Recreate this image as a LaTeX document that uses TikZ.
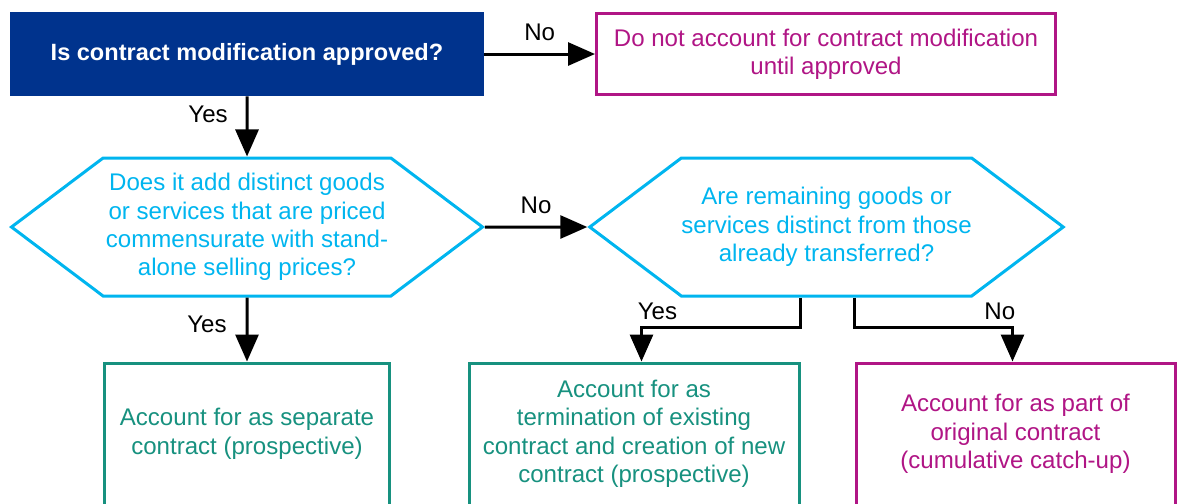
\documentclass[tikz,border=0pt]{standalone}
\usepackage{fontspec}
\setmainfont{Liberation Sans}
\usetikzlibrary{positioning, shapes.symbols, arrows.meta}
\definecolor{kblue}{HTML}{00338D}
\definecolor{kcyan}{HTML}{00B5EF}
\definecolor{kmag}{HTML}{B01585}
\definecolor{kgreen}{HTML}{17917F}
\tikzset{flow/.style={-{Triangle[length=0.54cm,width=0.46cm]}, line width=0.06cm},
  ask/.style={fill=kblue, text=white, font=\fontsize{13.4}{16}\selectfont\bfseries,
    minimum width=9.48cm, minimum height=1.68cm},
  hexq/.style={signal, signal to=west and east, signal pointer angle=74, draw=kcyan, text=kcyan,
    line width=0.06cm, inner xsep=0pt, minimum width=9.42cm, minimum height=2.76cm, align=center},
  outbox/.style={draw, line width=0.06cm, minimum height=2.84cm, align=center}}

\begin{document}
\begin{tikzpicture}[node distance=4cm, on grid, font=\fontsize{13.7}{16.2}\selectfont]
  \useasboundingbox (-4.94,-8.98) rectangle (18.68,1.08);
  \clip (-4.94,-8.98) rectangle (18.68,1.08);

  \node[ask] (appr) at (0,0) {Is contract modification approved?};

  \node[outbox, draw=kmag, text=kmag, minimum width=9.18cm, minimum height=1.62cm]
    (noappr) [right=11.58cm of appr] {%
    Do not account for contract modification\\ until approved};

  \node[hexq] (addq) [below=3.46cm of appr] {%
    Does it add distinct goods\\
    or services that are priced\\
    commensurate with stand-\\
    alone selling prices?};

  \node[hexq] (remq) [right=11.59cm of addq] {%
    Are remaining goods or\\
    services distinct from those\\
    already transferred?};

  \node[outbox, draw=kgreen, text=kgreen, minimum width=5.7cm]
    (sep) [below=4.14cm of addq] {%
    Account for as separate\\ contract (prospective)};

  \node[outbox, draw=kgreen, text=kgreen, minimum width=6.6cm]
    (term) [below=4.14cm of remq, xshift=-3.85cm] {%
    Account for as\\
    termination of existing\\
    contract and creation of new\\
    contract (prospective)};

  \node[outbox, draw=kmag, text=kmag, minimum width=6.38cm]
    (part) [below=4.14cm of remq, xshift=3.78cm] {%
    Account for as part of\\
    original contract\\
    (cumulative catch-up)};

  % answers
  \draw[flow] (appr) edge node[above=0.12cm] {No} (noappr);
  \draw[flow] (appr) edge node[left=0.24cm, pos=0.3] {Yes} (addq);
  \draw[flow] (addq) edge node[above=0.12cm] {No} (remq);
  \draw[flow] (addq) edge node[left=0.26cm, pos=0.42] {Yes} (sep);
  \draw[flow] ([xshift=-0.52cm]remq.south) -- ++(0,-0.6)
    -| node[above, pos=0.45] {Yes} ([xshift=0.15cm]term.north);
  \draw[flow] ([xshift=0.56cm]remq.south) -- ++(0,-0.6)
    -| node[above, pos=0.46] {No} ([xshift=-0.06cm]part.north);
\end{tikzpicture}
\end{document}
